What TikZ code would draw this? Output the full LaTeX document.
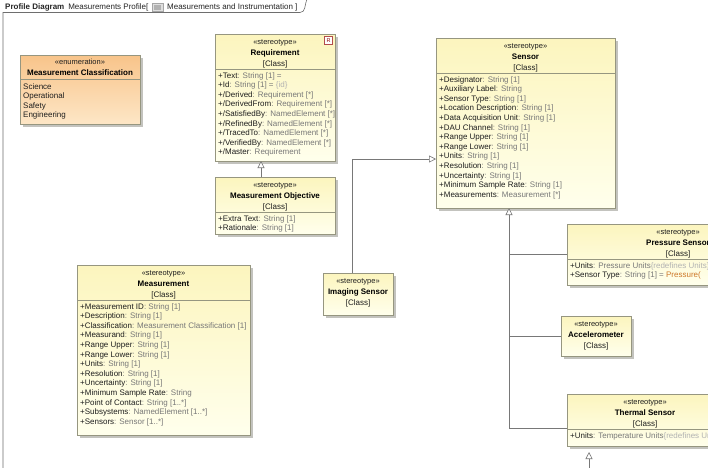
\documentclass[tikz,border=0pt]{standalone}
\usepackage{fontspec}
\setmainfont{Liberation Sans}
\usetikzlibrary{arrows.meta,shadows}
\definecolor{clsTop}{RGB}{252,245,190}
\definecolor{clsBot}{RGB}{255,255,236}
\definecolor{enTop}{RGB}{248,196,138}
\definecolor{enBot}{RGB}{253,230,198}
\definecolor{bordC}{RGB}{150,150,128}
\definecolor{shadC}{RGB}{195,195,190}
\definecolor{nameC}{RGB}{30,30,30}
\definecolor{typeC}{RGB}{120,120,120}
\definecolor{lightC}{RGB}{178,178,178}
\definecolor{valC}{RGB}{205,120,40}
\definecolor{lineC}{RGB}{120,120,120}
\definecolor{frameC}{RGB}{110,110,110}
\newcommand\Anm[1]{\textcolor{nameC}{#1}}
\newcommand\Aty[1]{\textcolor{typeC}{#1}}
\newcommand\Alt[1]{\textcolor{lightC}{#1}}
\newcommand\Avl[1]{\textcolor{valC}{#1}}
\newcommand\attrlist[4]{%
  \foreach \txt [count=\i from 0] in {#4}
    \node[attr] (#1-\i) at (#2,{#3+\i*9.6}) {\txt};}
\newcommand\clshead[4]{%
  \node[stt] (#1-st) at (#2,{#3+10}) {«stereotype»};
  \node[ttl] (#1-nm) at (#2,{#3+21}) {#4};
  \node[cll] (#1-cl) at (#2,{#3+32}) {[Class]};}
\newcommand\divider[2]{\draw[bordC, line width=0.5pt] ([yshift=-#2pt]#1.north west) -- ([yshift=-#2pt]#1.north east);}
\begin{document}
\begin{tikzpicture}[x=1pt,y=-1pt,
  cls/.style={anchor=north west, draw=bordC, line width=0.6pt, top color=clsTop, bottom color=clsBot,
    inner sep=0pt, outer sep=0pt, drop shadow={shadow xshift=2.5pt, shadow yshift=-2.5pt, fill=shadC, opacity=1}},
  enm/.style={cls, top color=enTop, bottom color=enBot},
  stt/.style={anchor=base, inner sep=0pt, font=\fontsize{7.5}{9}\selectfont, text=nameC},
  ttl/.style={anchor=base, inner sep=0pt, font=\fontsize{8}{9}\selectfont\bfseries, text=black},
  cll/.style={anchor=base, inner sep=0pt, font=\fontsize{8}{9}\selectfont, text=nameC},
  attr/.style={anchor=base west, inner sep=0pt, font=\fontsize{8}{9.6}\selectfont},
  tabtext/.style={anchor=base west, inner sep=0pt, font=\fontsize{8}{9}\selectfont, text=black!85},
  genline/.style={draw=lineC, line width=0.6pt},
  gen/.style={genline, -{Triangle[open, length=7pt, width=7pt, fill=white]}}
]
\useasboundingbox (0,0) rectangle (708,467);
\fill[white] (0,0) rectangle (708,467);
\clip (0,0) rectangle (708,467);

% frame and tab
\draw[frameC, line width=0.6pt] (3,470) -- (3,12.5) -- (300,12.5) to[out=0,in=-115] (307,-1);
\node[tabtext] (tab1) at (5,9) {\textbf{Profile Diagram}\hspace{4pt}Measurements Profile[};
\node[anchor=west, draw=gray!70, fill=gray!25, minimum width=11pt, minimum height=8pt, inner sep=0pt] (tabicon) at ([xshift=3pt]tab1.east) {};
\fill[gray!60] ([xshift=2pt,yshift=1.5pt]tabicon.south west) rectangle ([xshift=-2pt,yshift=-2pt]tabicon.north east);
\node[tabtext] (tab2) at ([xshift=4pt]tabicon.east |- tab1.base) {Measurements and Instrumentation ]};

% enumeration
\node[enm, minimum width=120pt, minimum height=69pt] (enum) at (20,55) {};
\node[stt] (enum-st) at (80,64) {«enumeration»};
\node[ttl] (enum-nm) at (80,75) {Measurement Classification};
\divider{enum}{24}
\attrlist{enum-a}{23}{89}{{\Anm{Science}},{\Anm{Operational}},{\Anm{Safety}},{\Anm{Engineering}}}

% Requirement
\node[cls, minimum width=120pt, minimum height=127pt] (req) at (215,34) {};
\clshead{req}{275}{34}{Requirement}
\divider{req}{35}
\node[draw=red!40!gray, fill=white, minimum size=8pt, inner sep=0pt, font=\fontsize{5.5}{6}\selectfont, text=red!55!black] (req-icon) at (328.5,40.5) {R};
\attrlist{req-a}{218}{78}{%
 {\Anm{+Text}\Aty{ : String [1] =}},
 {\Anm{+Id}\Aty{ : String [1] = }\Alt{\{id\}}},
 {\Anm{+/Derived}\Aty{ : Requirement [*]}},
 {\Anm{+/DerivedFrom}\Aty{ : Requirement [*]}},
 {\Anm{+/SatisfiedBy}\Aty{ : NamedElement [*]}},
 {\Anm{+/RefinedBy}\Aty{ : NamedElement [*]}},
 {\Anm{+/TracedTo}\Aty{ : NamedElement [*]}},
 {\Anm{+/VerifiedBy}\Aty{ : NamedElement [*]}},
 {\Anm{+/Master}\Aty{ : Requirement}}}

% Measurement Objective
\node[cls, minimum width=120pt, minimum height=57pt] (mo) at (215,177) {};
\clshead{mo}{275}{177}{Measurement Objective}
\divider{mo}{35}
\attrlist{mo-a}{218}{221}{%
 {\Anm{+Extra Text}\Aty{ : String [1]}},
 {\Anm{+Rationale}\Aty{ : String [1]}}}

% Sensor
\node[cls, minimum width=179pt, minimum height=170pt] (sen) at (436,38) {};
\clshead{sen}{525.5}{38}{Sensor}
\divider{sen}{35}
\attrlist{sen-a}{439}{82}{%
 {\Anm{+Designator}\Aty{ : String [1]}},
 {\Anm{+Auxiliary Label}\Aty{: String}},
 {\Anm{+Sensor Type}\Aty{ : String [1]}},
 {\Anm{+Location Description}\Aty{ : String [1]}},
 {\Anm{+Data Acquisition Unit}\Aty{: String [1]}},
 {\Anm{+DAU Channel}\Aty{ : String [1]}},
 {\Anm{+Range Upper}\Aty{ : String [1]}},
 {\Anm{+Range Lower}\Aty{ : String [1]}},
 {\Anm{+Units}\Aty{ : String [1]}},
 {\Anm{+Resolution}\Aty{ : String [1]}},
 {\Anm{+Uncertainty}\Aty{ : String [1]}},
 {\Anm{+Minimum Sample Rate}\Aty{: String [1]}},
 {\Anm{+Measurements}\Aty{ : Measurement [*]}}}

% Measurement
\node[cls, minimum width=173pt, minimum height=170pt] (meas) at (77,265) {};
\clshead{meas}{163.5}{265}{Measurement}
\divider{meas}{35}
\attrlist{meas-a}{80}{309}{%
 {\Anm{+Measurement ID}\Aty{ : String [1]}},
 {\Anm{+Description}\Aty{ : String [1]}},
 {\Anm{+Classification}\Aty{ : Measurement Classification [1]}},
 {\Anm{+Measurand}\Aty{ : String [1]}},
 {\Anm{+Range Upper}\Aty{ : String [1]}},
 {\Anm{+Range Lower}\Aty{ : String [1]}},
 {\Anm{+Units}\Aty{ : String [1]}},
 {\Anm{+Resolution}\Aty{ : String [1]}},
 {\Anm{+Uncertainty}\Aty{ : String [1]}},
 {\Anm{+Minimum Sample Rate}\Aty{: String}},
 {\Anm{+Point of Contact}\Aty{: String [1..*]}},
 {\Anm{+Subsystems}\Aty{ : NamedElement [1..*]}},
 {\Anm{+Sensors}\Aty{ : Sensor [1..*]}}}

% Imaging Sensor
\node[cls, minimum width=70pt, minimum height=42pt] (img) at (323,273) {};
\clshead{img}{358}{273}{Imaging Sensor}

% Pressure Sensor
\node[cls, minimum width=222pt, minimum height=61pt] (pres) at (567,224) {};
\clshead{pres}{678}{224}{Pressure Sensor}
\divider{pres}{35}
\attrlist{pres-a}{570}{268}{%
 {\Anm{+Units}\Aty{ : Pressure Units}\Alt{\{redefines Units\}}},
 {\Anm{+Sensor Type}\Aty{ : String [1] = }\Avl{Pressure(}}}

% Accelerometer
\node[cls, minimum width=70pt, minimum height=40pt] (acc) at (561,316) {};
\clshead{acc}{596}{316}{Accelerometer}

% Thermal Sensor
\node[cls, minimum width=156pt, minimum height=52pt] (therm) at (567,394) {};
\clshead{therm}{645}{394}{Thermal Sensor}
\divider{therm}{35}
\attrlist{therm-a}{570}{438}{%
 {\Anm{+Units}\Aty{ : Temperature Units}\Alt{\{redefines Units\}}}}

% generalizations
\draw[gen] ([xshift=-14pt]mo.north) -- ([xshift=-14pt]mo.north |- req.south);
\draw[gen] ([xshift=-6pt]img.north) |- ([yshift=-36pt]sen.west);
\coordinate (trunk) at (509,250);
\draw[genline] (pres.west) -- (pres.west -| trunk);
\draw[genline] (acc.west) -- (acc.west -| trunk);
\draw[gen] ([yshift=-8pt]therm.west) -| ([xshift=-16.5pt]sen.south);
\coordinate (thsub) at (589,470);
\draw[gen] (thsub) -- ([yshift=-6pt]thsub |- therm.south);
\end{tikzpicture}
\end{document}
